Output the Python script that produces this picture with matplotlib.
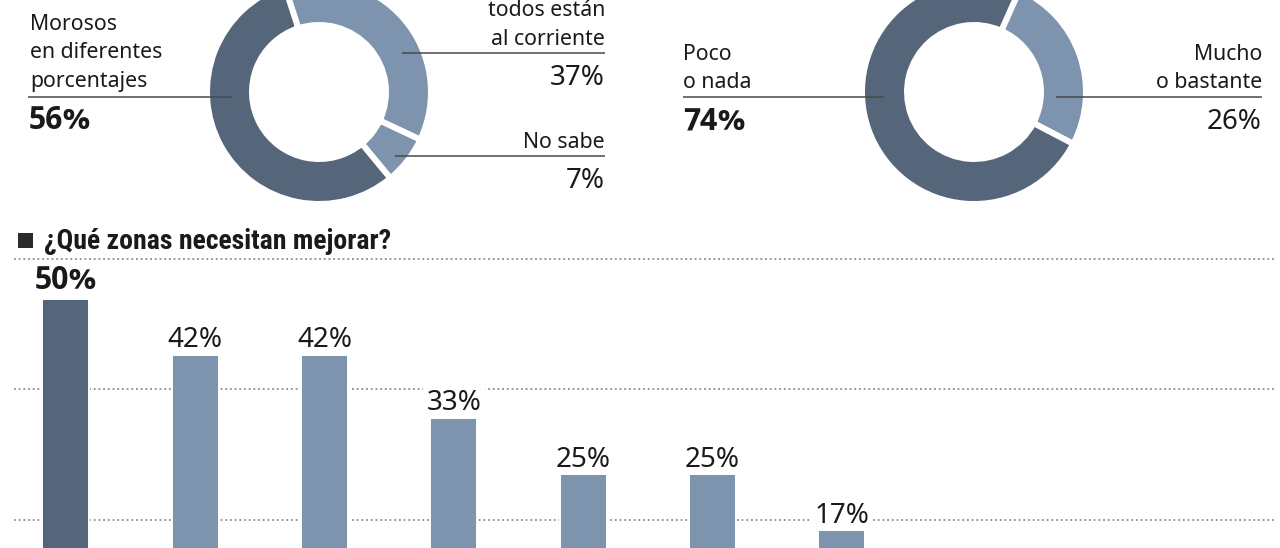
import matplotlib
matplotlib.use("Agg")
import matplotlib.pyplot as plt
from matplotlib import font_manager as fm
from matplotlib.font_manager import FontProperties
from matplotlib.patches import Rectangle

# ---------------- data ----------------
morosidad_labels = ["todos están\nal corriente", "No sabe", "Morosos\nen diferentes\nporcentajes"]
morosidad_values = [37, 7, 56]

confianza_labels = ["Mucho\no bastante", "Poco\no nada"]
confianza_values = [26, 74]

zonas_title = "¿Qué zonas necesitan mejorar?"
zonas_rank = ["1", "2", "3", "4", "5", "6", "7"]
zonas_values = [50, 42, 42, 33, 25, 25, 17]

# ---------------- style ----------------
DARK = "#55667a"
LIGHT = "#7e94ae"
TXT = "#1a1a1a"
LINE = "#4a4a4a"
GRID = "#8c8c8c"

names = {f.name for f in fm.fontManager.ttflist}
BASE = "Noto Sans" if "Noto Sans" in names else "DejaVu Sans"


def _is_bold(f):
    w = f.weight
    if isinstance(w, str):
        return w.lower() == "bold"
    return w == 700


def _is_cond(f):
    s = str(f.stretch).lower()
    n = f.name.lower()
    return ("condensed" in s and "extra" not in s and "ultra" not in s and "semi" not in s) \
        or "condensed" in n or "narrow" in n


def _is_normal_width(f):
    s = str(f.stretch).lower()
    n = f.name.lower()
    return s in ("normal", "400", "medium") and "condensed" not in n and "narrow" not in n


def find_font(prefs, pred):
    for p in prefs:
        for f in fm.fontManager.ttflist:
            if f.name.startswith(p) and "CJK" not in f.name and "Mono" not in f.name \
                    and "Display" not in f.name and str(f.style) == "normal" and pred(f):
                low = f.fname.lower()
                if any(k in low for k in ("black", "extrabold", "heavy", "semibold")):
                    continue
                return f.fname
    return None


cond_bold = find_font(["Roboto", "Noto Sans", "Open Sans", "DejaVu Sans", "Liberation Sans"],
                      lambda f: _is_cond(f) and _is_bold(f))
wide_bold = find_font(["Noto Sans", "Open Sans", "Lato", "Roboto", "DejaVu Sans"],
                      lambda f: _is_normal_width(f) and _is_bold(f))


def title_props(size):
    if cond_bold:
        return FontProperties(fname=cond_bold, size=size)
    return FontProperties(family="Roboto", weight="bold", size=size * 0.9)


def bold_props(size):
    if wide_bold:
        return FontProperties(fname=wide_bold, size=size)
    return FontProperties(family="DejaVu Sans", weight="bold", size=size)


def reg_props(size):
    return FontProperties(family=BASE, size=size)


W, H = 1280, 548
fig = plt.figure(figsize=(W / 100, H / 100), dpi=100)
fig.patch.set_facecolor("white")


def px_axes(cx, cy, size):
    return fig.add_axes([(cx - size / 2) / W, (H - cy - size / 2) / H, size / W, size / H])


# ---------------- donuts ----------------
R_OUT, R_IN, GAP_LW = 112, 67, 4.3


def donut(cx, cy, values, colors, start):
    ax = px_axes(cx, cy, 260)
    ax.pie(values, colors=colors, startangle=start, counterclock=False, radius=R_OUT,
           wedgeprops=dict(width=R_OUT - R_IN, edgecolor="white", linewidth=GAP_LW))
    ax.set_xlim(-130, 130)
    ax.set_ylim(-130, 130)
    ax.set_aspect("auto")
    ax.axis("off")
    return ax


donut(319, 92, morosidad_values, [LIGHT, LIGHT, DARK], 108)
donut(974, 92, confianza_values, [LIGHT, DARK], 66)

# ---------------- bar chart ----------------
PX_BASE, PX_PER, STEP_PX, X0_PX = 650.0, 7.03, 129.25, 66.0
AX_TOP_PX = 250
ax_b = fig.add_axes([0, 0, 1, (H - AX_TOP_PX) / H])
ax_b.set_xlim(-X0_PX / STEP_PX, (W - X0_PX) / STEP_PX)
ax_b.set_ylim((PX_BASE - H) / PX_PER, (PX_BASE - AX_TOP_PX) / PX_PER)
ax_b.axis("off")

grid_step = 18.54
for k in (1, 2, 3):
    ax_b.axhline(k * grid_step, xmin=14 / W, xmax=1274 / W, color=GRID, lw=1.3,
                 linestyle=(0, (1.0, 1.6)), zorder=1)

xs = list(range(len(zonas_rank)))
vmax = max(zonas_values)
bar_colors = [DARK if v == vmax else LIGHT for v in zonas_values]
ax_b.bar(xs, zonas_values, width=47 / STEP_PX, color=bar_colors, edgecolor="white",
         linewidth=1.4, zorder=3)
for x, v in zip(xs, zonas_values):
    bold = v == vmax
    fp = bold_props(22.5) if bold else reg_props(20)
    ax_b.annotate(f"{v}%", (x, v), xytext=(0, 7 if bold else 5.5), textcoords="offset points",
                  ha="center", va="baseline", fontproperties=fp, color=TXT, zorder=2,
                  bbox=dict(boxstyle="square,pad=0.12", fc="white", ec="none"),
                  annotation_clip=False)

# ---------------- overlay for labels ----------------
ax_o = fig.add_axes([0, 0, 1, 1])
ax_o.set_xlim(0, W)
ax_o.set_ylim(H, 0)
ax_o.axis("off")
ax_o.patch.set_visible(False)

LS = 28.5


def label_block(text, x, last_base, ha):
    lines = text.split("\n")
    n = len(lines)
    for i, ln in enumerate(lines):
        ax_o.text(x, last_base - (n - 1 - i) * LS, ln, ha=ha, va="baseline",
                  fontproperties=reg_props(15.3), color=TXT)


def pct(value, x, base, ha, bold):
    fp = bold_props(22.5) if bold else reg_props(20)
    ax_o.text(x, base, f"{value}%", ha=ha, va="baseline", fontproperties=fp, color=TXT)


def leader(x0, x1, y):
    ax_o.plot([x0, x1], [y, y], color=LINE, lw=1.1, solid_capstyle="butt")


# donut 1 labels
m_max = max(morosidad_values)
specs1 = [  # (x, last baseline, ha, line x0, line x1, line y, pct baseline)
    (605, 45, "right", 402, 605, 53, 85),
    (605, 148, "right", 395, 605, 156, 188),
    (30, 87, "left", 28, 232, 97, 129),
]
for lab, val, (x, b, ha, lx0, lx1, ly, pb) in zip(morosidad_labels, morosidad_values, specs1):
    label_block(lab, x, b, ha)
    leader(lx0, lx1, ly)
    pct(val, x if ha == "right" else x - 1, pb, ha, val == m_max)

# donut 2 labels
c_max = max(confianza_values)
specs2 = [
    (1262, 88, "right", 1056, 1262, 97, 129),
    (683, 88, "left", 683, 884, 97, 129),
]
for lab, val, (x, b, ha, lx0, lx1, ly, pb) in zip(confianza_labels, confianza_values, specs2):
    label_block(lab, x, b, ha)
    leader(lx0, lx1, ly)
    pct(val, x, pb, ha, val == c_max)

# bar chart title
ax_o.add_patch(Rectangle((18, 233), 15, 15, color="#2a2a2a", lw=0))
ax_o.text(44, 249, zonas_title, ha="left", va="baseline", fontproperties=title_props(20),
          color=TXT)

fig.savefig("out.png", dpi=100, facecolor="white")
